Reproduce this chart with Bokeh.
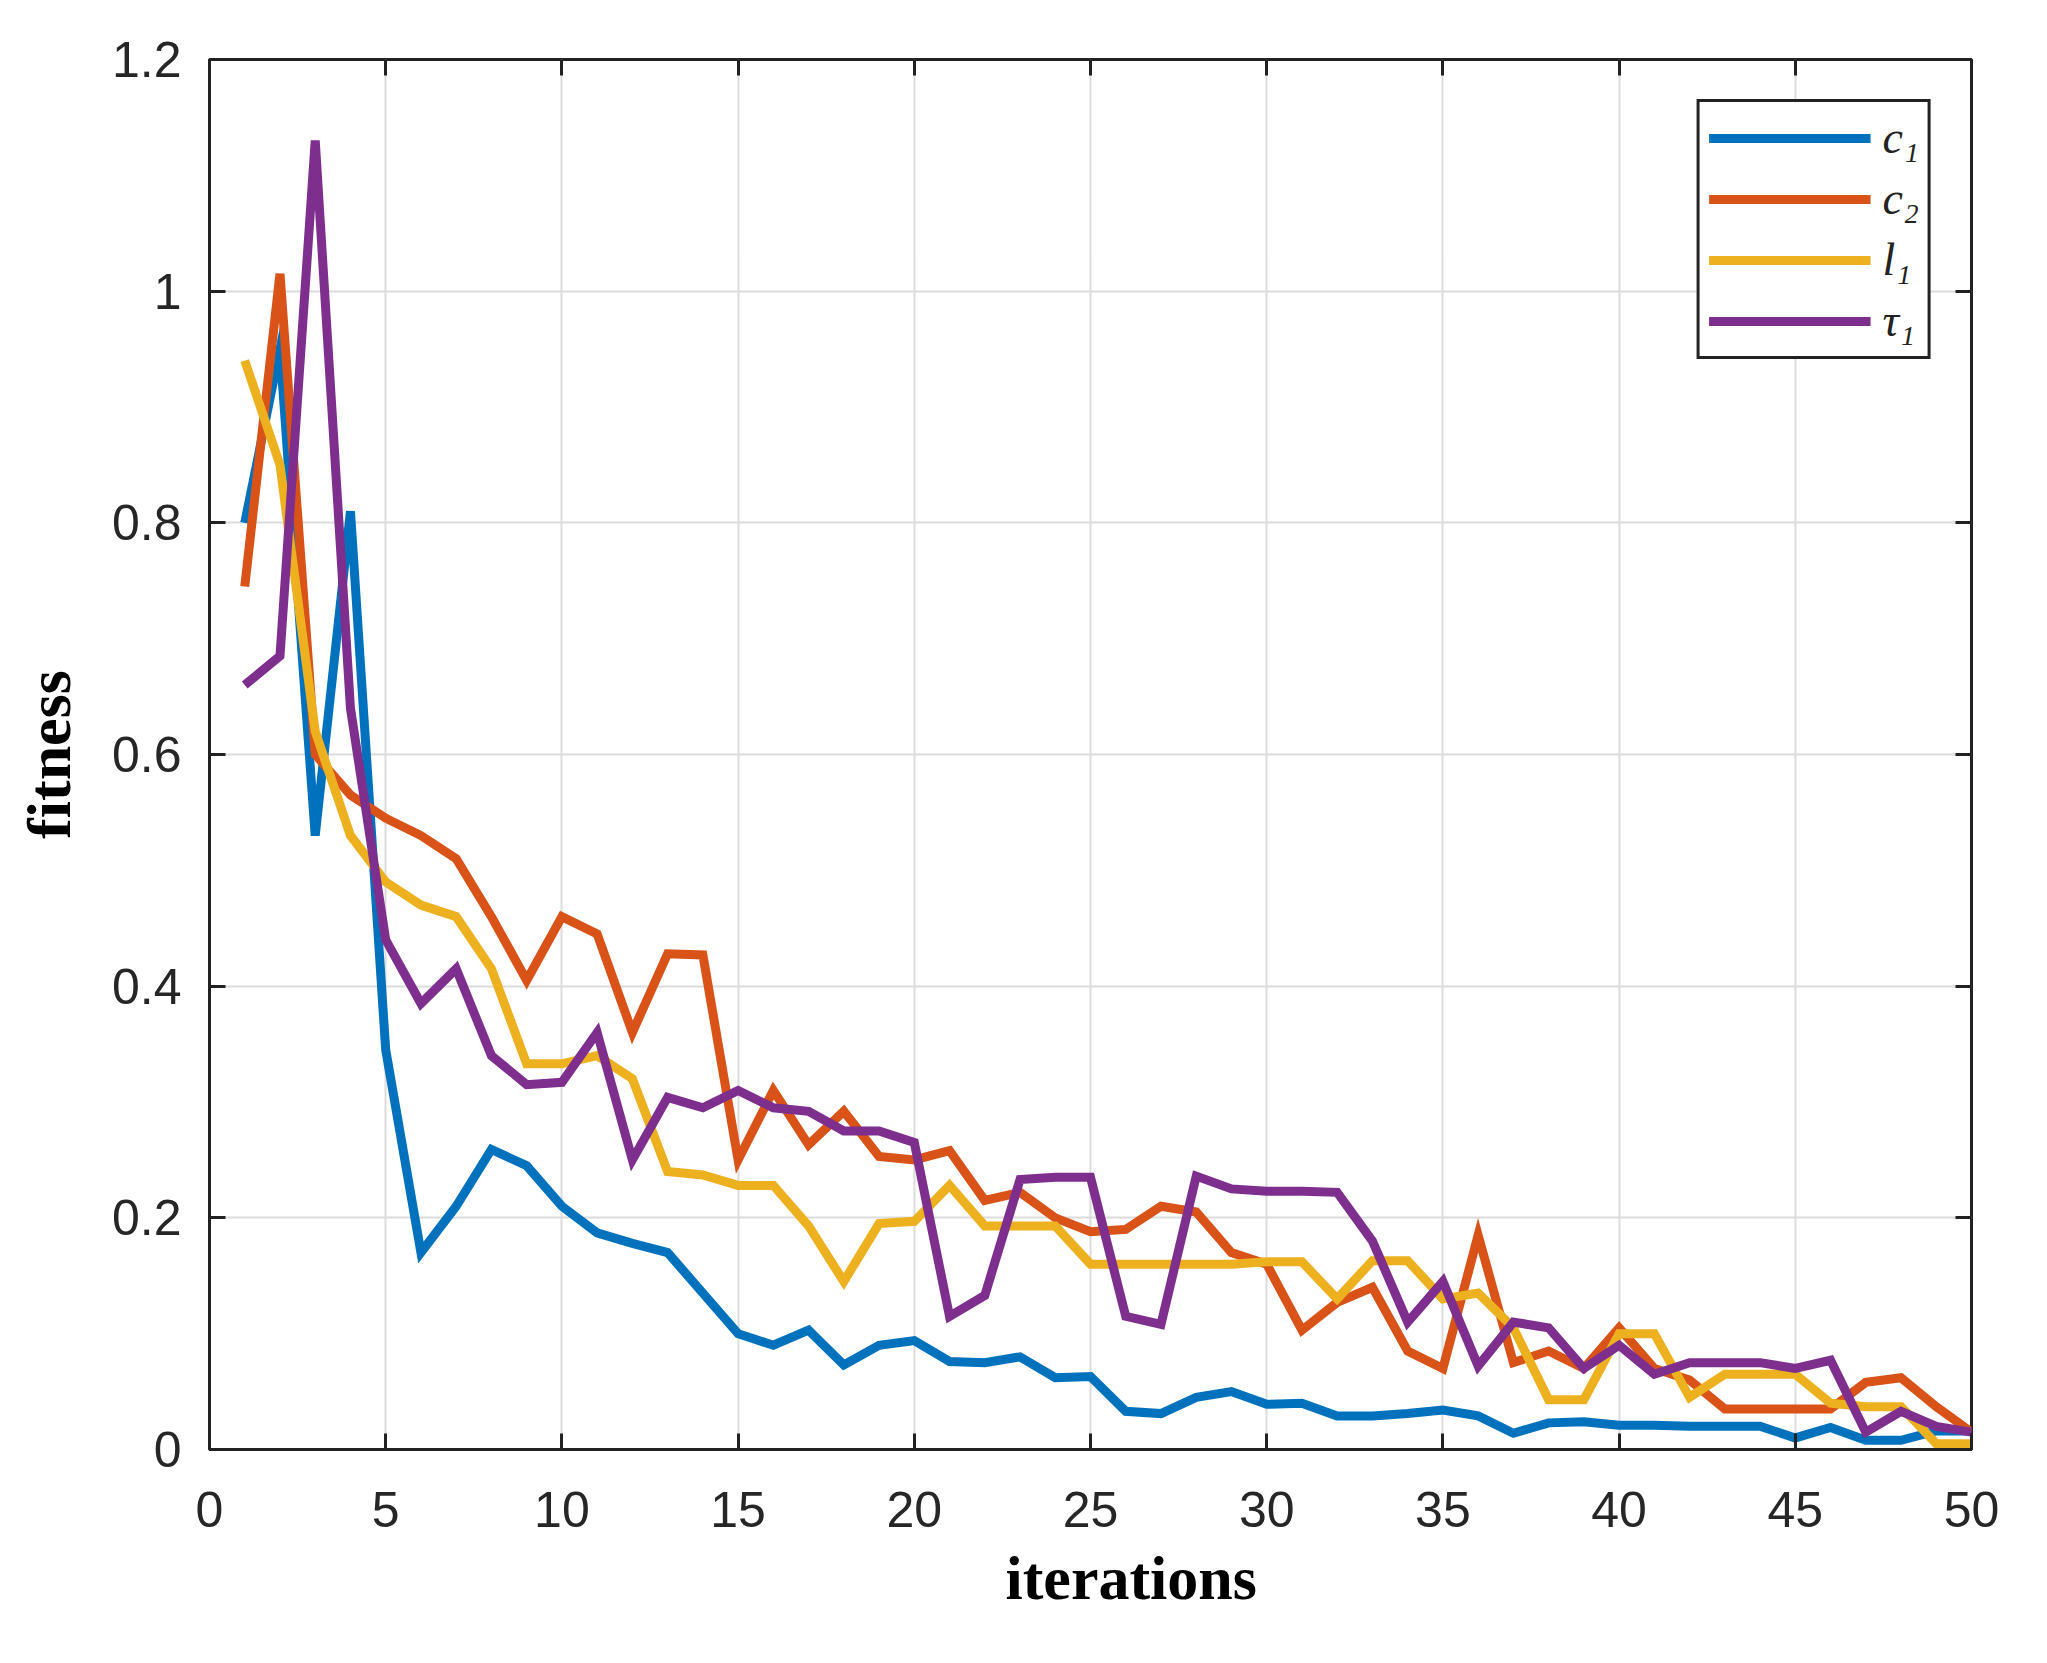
from bokeh.plotting import figure
from bokeh.models import Range1d, FixedTicker, LinearAxis, CustomJSTickFormatter, Legend, LegendItem, Title
from bokeh.embed import file_html
from bokeh.resources import INLINE

iterations = list(range(1, 51))

c1 = [0.80, 0.95, 0.53, 0.81, 0.345, 0.17, 0.21, 0.259, 0.245, 0.21,
      0.187, 0.178, 0.17, 0.135, 0.10, 0.09, 0.103, 0.073, 0.09, 0.094,
      0.076, 0.075, 0.08, 0.062, 0.063, 0.033, 0.031, 0.045, 0.05, 0.039,
      0.04, 0.029, 0.029, 0.031, 0.034, 0.029, 0.014, 0.023, 0.024, 0.021,
      0.021, 0.02, 0.02, 0.02, 0.01, 0.019, 0.008, 0.008, 0.016, 0.016]

c2 = [0.745, 1.015, 0.60, 0.565, 0.545, 0.53, 0.51, 0.46, 0.405, 0.46,
      0.445, 0.36, 0.428, 0.427, 0.25, 0.31, 0.263, 0.292, 0.253, 0.25,
      0.258, 0.215, 0.222, 0.20, 0.188, 0.19, 0.21, 0.205, 0.17, 0.16,
      0.103, 0.127, 0.14, 0.085, 0.07, 0.185, 0.075, 0.085, 0.07, 0.105,
      0.07, 0.06, 0.035, 0.035, 0.035, 0.035, 0.058, 0.062, 0.037, 0.015]

l1 = [0.94, 0.85, 0.62, 0.53, 0.49, 0.47, 0.46, 0.415, 0.333, 0.333,
      0.34, 0.32, 0.24, 0.237, 0.228, 0.228, 0.193, 0.145, 0.195, 0.197,
      0.228, 0.193, 0.193, 0.193, 0.16, 0.16, 0.16, 0.16, 0.16, 0.162,
      0.162, 0.13, 0.163, 0.163, 0.13, 0.135, 0.105, 0.043, 0.043, 0.10,
      0.10, 0.045, 0.065, 0.065, 0.065, 0.04, 0.037, 0.037, 0.005, 0.005]

tau1 = [0.66, 0.685, 1.13, 0.64, 0.44, 0.385, 0.415, 0.34, 0.315, 0.317,
        0.36, 0.25, 0.304, 0.295, 0.31, 0.295, 0.292, 0.275, 0.275, 0.265,
        0.115, 0.133, 0.233, 0.235, 0.235, 0.115, 0.108, 0.236, 0.225, 0.223,
        0.223, 0.222, 0.18, 0.11, 0.145, 0.072, 0.11, 0.105, 0.07, 0.09,
        0.065, 0.075, 0.075, 0.075, 0.07, 0.077, 0.015, 0.033, 0.02, 0.015]

series_names = ["c\u2081", "c\u2082", "l\u2081", "\u03c4\u2081"]
series_colors = ["#0072BD", "#D95319", "#EDB120", "#7E2F8E"]
x_ticks = [0, 5, 10, 15, 20, 25, 30, 35, 40, 45, 50]
y_ticks = [0, 0.2, 0.4, 0.6, 0.8, 1.0, 1.2]

p = figure(width=2047, height=1663, output_backend="svg", toolbar_location=None,
           x_range=Range1d(0, 50), y_range=Range1d(0, 1.2),
           min_border_left=209, min_border_right=76, min_border_top=59, min_border_bottom=214)
p.background_fill_color = "white"
p.border_fill_color = "white"
p.outline_line_color = "#222222"
p.outline_line_width = 3

tick_font = "Liberation Sans"
for ax in (p.xaxis[0], p.yaxis[0]):
    ax.major_label_text_font = tick_font
    ax.major_label_text_font_size = "50px"
    ax.major_label_text_color = "#262626"
    ax.axis_line_color = "#222222"
    ax.axis_line_width = 3
    ax.major_tick_in = 16
    ax.major_tick_out = 0
    ax.major_tick_line_color = "#222222"
    ax.major_tick_line_width = 3
    ax.minor_tick_line_color = None
    ax.axis_label_text_font = "Liberation Serif"
    ax.axis_label_text_font_style = "bold"
    ax.axis_label_text_font_size = "62px"
    ax.axis_label_text_color = "black"

p.xaxis[0].ticker = FixedTicker(ticks=x_ticks)
p.yaxis[0].ticker = FixedTicker(ticks=y_ticks)
p.yaxis[0].formatter = CustomJSTickFormatter(code="return tick.toFixed(1).replace(/\\.0$/, '');")
p.xaxis[0].major_label_standoff = 42
p.yaxis[0].major_label_standoff = 28
p.yaxis[0].axis_label = "fitness"
p.yaxis[0].axis_label_standoff = 26

x_title = Title(text="iterations", align="left", offset=796, standoff=24,
                text_font="Liberation Serif", text_font_style="bold",
                text_font_size="62px", text_color="black")
p.add_layout(x_title, "below")

# ticks on top and right (box)
top_ax = LinearAxis(ticker=FixedTicker(ticks=x_ticks), major_label_text_color=None,
                    major_label_text_font_size="1px",
                    axis_line_color=None, major_tick_in=16, major_tick_out=0,
                    major_tick_line_color="#222222", major_tick_line_width=3,
                    minor_tick_line_color=None)
right_ax = LinearAxis(ticker=FixedTicker(ticks=y_ticks), major_label_text_color=None,
                      major_label_text_font_size="1px",
                      axis_line_color=None, major_tick_in=16, major_tick_out=0,
                      major_tick_line_color="#222222", major_tick_line_width=3,
                      minor_tick_line_color=None)
p.add_layout(top_ax, "above")
p.add_layout(right_ax, "right")

p.grid.grid_line_color = "#dcdcdc"
p.grid.grid_line_width = 2
p.xgrid.ticker = FixedTicker(ticks=x_ticks)
p.ygrid.ticker = FixedTicker(ticks=y_ticks)

items = []
for name, ys, col in zip(series_names, [c1, c2, l1, tau1], series_colors):
    r = p.line(iterations, ys, line_color=col, line_width=9, line_join="miter")
    items.append(LegendItem(label=name, renderers=[r]))

legend = Legend(items=items, location="top_right", margin=40)
legend.glyph_width = 162
legend.glyph_height = 40
legend.label_height = 40
legend.spacing = 8
legend.padding = 9
legend.label_standoff = 12
legend.label_text_font = "Liberation Serif"
legend.label_text_font_style = "italic"
legend.label_text_font_size = "46px"
legend.label_text_line_height = 0.9
legend.label_text_color = "#222222"
legend.border_line_color = "#222222"
legend.border_line_width = 3
legend.border_line_alpha = 1
legend.background_fill_alpha = 1
p.add_layout(legend, "center")

open("out.html", "w").write(file_html(p, INLINE))
